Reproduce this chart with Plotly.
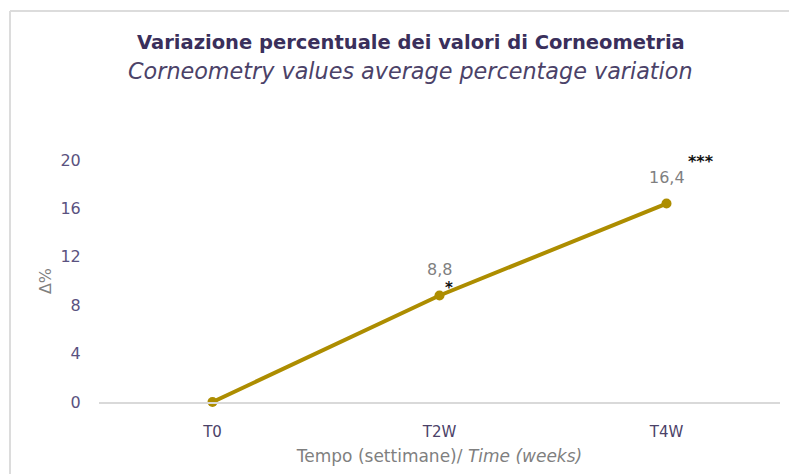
import plotly.graph_objects as go

categories = ["T0", "T2W", "T4W"]
values = [0, 8.8, 16.4]
value_labels = ["", "8,8", "16,4"]
significance = ["", "*", "***"]
y_ticks = [0, 4, 8, 12, 16, 20]

FONT = "DejaVu Sans"
line_color = "#ad8d00"

fig = go.Figure()
fig.add_trace(go.Scatter(
    x=categories, y=values, mode="lines+markers",
    line=dict(color=line_color, width=4),
    marker=dict(color=line_color, size=10),
    cliponaxis=False, hoverinfo="skip", showlegend=False,
))

annotations = []
for i, (lab, sig, v) in enumerate(zip(value_labels, significance, values)):
    if lab:
        annotations.append(dict(x=categories[i], y=v, xref="x", yref="y", text=lab,
                                showarrow=False, yshift=26,
                                font=dict(family=FONT, size=16, color="#7f7f7f")))
    if sig:
        if sig == "*":
            annotations.append(dict(x=categories[i], y=v, xref="x", yref="y", text="<b>*</b>",
                                    showarrow=False, xshift=9, yshift=8,
                                    font=dict(family=FONT, size=15, color="#111111")))
        else:
            annotations.append(dict(x=categories[i], y=v, xref="x", yref="y", text="<b>***</b>",
                                    showarrow=False, xshift=34, yshift=42,
                                    font=dict(family=FONT, size=16, color="#111111")))

annotations.append(dict(x=0.458, y=1.0, xref="paper", yref="paper", yanchor="middle",
                        text="<b>Variazione percentuale dei valori di Corneometria</b>",
                        showarrow=False, yshift=118,
                        font=dict(family=FONT, size=19.5, color="#3a2f5b")))
annotations.append(dict(x=0.458, y=1.0, xref="paper", yref="paper", yanchor="middle",
                        text="<i>Corneometry values average percentage variation</i>",
                        showarrow=False, yshift=89,
                        font=dict(family=FONT, size=22.3, color="#4b4268")))

fig.update_layout(
    width=789, height=466,
    margin=dict(l=91, r=17, t=152, b=72),
    paper_bgcolor="white", plot_bgcolor="white",
    annotations=annotations,
    shapes=[
        dict(type="line", xref="paper", yref="paper", x0=-0.1307, x1=-0.1307, y0=-0.4, y1=1.6157,
             line=dict(color="#dcdcdc", width=2)),
        dict(type="line", xref="paper", yref="paper", x0=-0.1307, x1=1.2, y0=1.6157, y1=1.6157,
             line=dict(color="#dcdcdc", width=2)),
    ],
    xaxis=dict(
        type="category", range=[-0.5, 2.5], automargin=False,
        showgrid=False, zeroline=False,
        showline=True, linecolor="#d9d9d9", linewidth=1.5,
        ticks="outside", ticklen=15, tickcolor="rgba(0,0,0,0)",
        tickfont=dict(family=FONT, size=15, color="#4b4268"),
        title=dict(text="Tempo (settimane)/ <i>Time (weeks)</i>", standoff=10,
                   font=dict(family=FONT, size=17, color="#7f7f7f")),
    ),
    yaxis=dict(
        range=[0, 20], tickvals=y_ticks, automargin=False,
        showgrid=False, zeroline=False, showline=False,
        ticks="outside", ticklen=14, tickcolor="rgba(0,0,0,0)",
        tickfont=dict(family=FONT, size=16, color="#5a5280"),
        title=dict(text="Δ%", standoff=4,
                   font=dict(family=FONT, size=16, color="#7f7f7f")),
    ),
)

fig.write_html("out.html")
